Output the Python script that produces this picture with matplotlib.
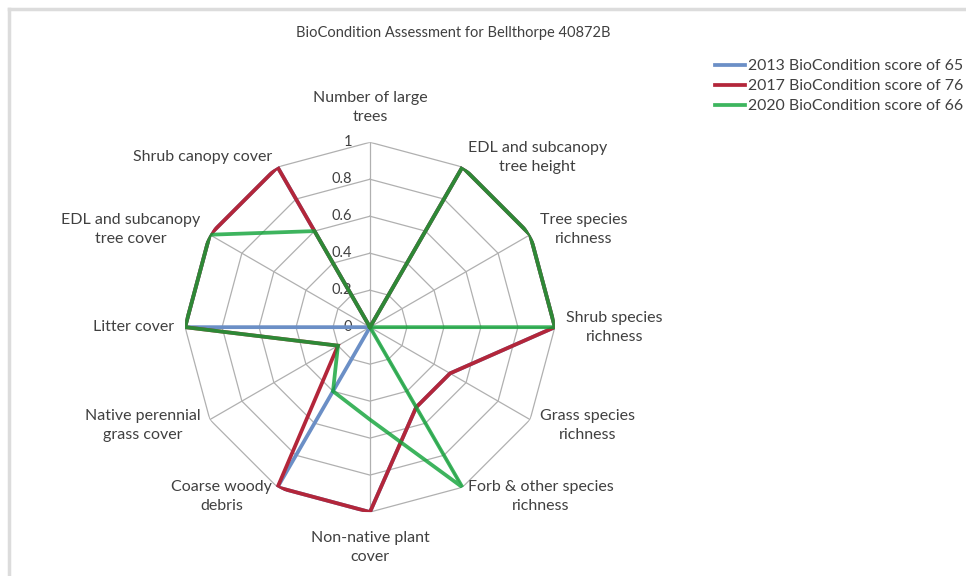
import numpy as np
import matplotlib
matplotlib.use("Agg")
import matplotlib.pyplot as plt
from matplotlib.lines import Line2D

plt.rcParams['font.family'] = ['Lato', 'DejaVu Sans']

categories = [
    "Number of large\ntrees",
    "EDL and subcanopy\ntree height",
    "Tree species\nrichness",
    "Shrub species\nrichness",
    "Grass species\nrichness",
    "Forb & other species\nrichness",
    "Non-native plant\ncover",
    "Coarse woody\ndebris",
    "Native perennial\ngrass cover",
    "Litter cover",
    "EDL and subcanopy\ntree cover",
    "Shrub canopy cover",
]

scores_2013 = [0, 1, 1, 1, 0.5, 0.5, 1, 1, 0, 1, 1, 1]
scores_2017 = [0, 1, 1, 1, 0.5, 0.5, 1, 1, 0.2, 1, 1, 1]
scores_2020 = [0, 1, 1, 1, 0, 1, 0.5, 0.4, 0.2, 1, 1, 0.6]

series_labels = [
    "2013 BioCondition score of 65",
    "2017 BioCondition score of 76",
    "2020 BioCondition score of 66",
]
rings = [0, 0.2, 0.4, 0.6, 0.8, 1.0]
ring_labels = ["0", "0.2", "0.4", "0.6", "0.8", "1"]

n = len(categories)
angles = np.linspace(0, 2 * np.pi, n, endpoint=False)
closed = np.append(angles, angles[0])

fig = plt.figure(figsize=(9.66, 5.76), dpi=100)
ax = fig.add_axes([0.1915, 0.111, 0.383, 0.642], projection='polar')
ax.set_theta_offset(np.pi / 2)
ax.set_theta_direction(-1)
ax.set_ylim(0, 1)
ax.grid(False)
ax.spines['polar'].set_visible(False)
ax.set_xticks([])
ax.set_yticks([])
ax.patch.set_alpha(0)

grid_col = '#b0b0b0'
for r in rings[1:]:
    ax.plot(closed, [r] * (n + 1), color=grid_col, lw=0.9, zorder=1)
for a in angles:
    ax.plot([a, a], [0, 1], color=grid_col, lw=0.9, zorder=1)

for r, lab in zip(rings, ring_labels):
    ax.annotate(lab, xy=(0, r), xytext=(-13, 0), textcoords='offset points',
                ha='right', va='center', fontsize=10.5, color='#404040', zorder=2)

def close(v):
    return list(v) + [v[0]]

lw = 2.7
ax.plot(closed, close(scores_2013), color='#6b8fc6', lw=lw, zorder=3,
        solid_joinstyle='miter')
ax.plot(closed, close(scores_2017), color='#b3263a', lw=lw, zorder=4,
        solid_joinstyle='miter')
ax.plot(closed, close(scores_2020), color='#0da236', alpha=0.8, lw=lw, zorder=5,
        solid_joinstyle='miter')

for a, lab in zip(angles, categories):
    s, c = np.sin(a), np.cos(a)
    if abs(s) < 0.01:
        ax.text(a, 1.1, lab, ha='center', va='bottom' if c > 0 else 'top',
                multialignment='center', fontsize=11.5, linespacing=1.45,
                color='#404040')
    else:
        ax.text(a, 1.06, lab, ha='left' if s > 0 else 'right', va='center',
                multialignment='center', fontsize=11.5, linespacing=1.45,
                color='#404040')

fig.text(0.469, 0.943, "BioCondition Assessment for Bellthorpe 40872B",
         ha='center', va='center', fontsize=10.5, color='#404040')

handles = [Line2D([], [], color='#6b8fc6', lw=lw),
           Line2D([], [], color='#b3263a', lw=lw),
           Line2D([], [], color='#3db55e', lw=lw)]
fig.legend(handles, series_labels, loc='upper left',
           bbox_to_anchor=(715 / 966, 1 - 59 / 576), frameon=False,
           fontsize=11.4, handlelength=1.9, handletextpad=0.2, borderpad=0,
           borderaxespad=0, labelspacing=0.38, labelcolor='#404040')

# chart area border (left and top edges)
fig.add_artist(Line2D([9 / 966, 9 / 966], [0, 1 - 9 / 576], color='#dcdcdc',
                      lw=2.5, transform=fig.transFigure))
fig.add_artist(Line2D([9 / 966, 1], [1 - 9 / 576, 1 - 9 / 576], color='#dcdcdc',
                      lw=2.5, transform=fig.transFigure))

fig.savefig("out.png", dpi=100)
